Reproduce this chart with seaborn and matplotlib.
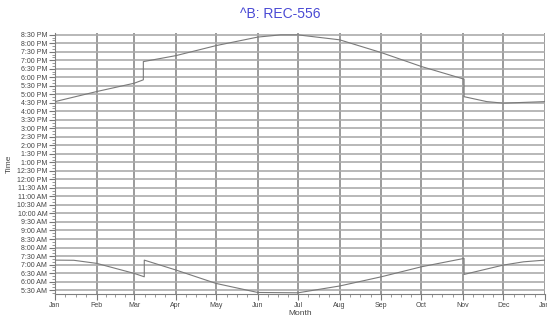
import numpy as np
import pandas as pd
import matplotlib
matplotlib.use("Agg")
import matplotlib.pyplot as plt
import seaborn as sns
from matplotlib.ticker import FixedLocator, FuncFormatter, MultipleLocator

# ---- data (day of year, hour of day) ----
sunset_day = [0, 31, 59, 65.8, 65.8, 90, 120, 151, 168, 181, 212, 243, 273, 304.7, 304.7, 321.6, 334, 365]
sunset_hr = [16.57, 17.16, 17.65, 17.85, 18.92, 19.27, 19.86, 20.36, 20.49, 20.49, 20.20, 19.45, 18.63, 17.89, 16.86, 16.57, 16.48, 16.57]

sunrise_day = [0, 14, 31, 59, 66.5, 66.5, 90, 120, 151, 181, 212, 243, 273, 304.7, 304.7, 334, 349, 365]
sunrise_hr = [7.26, 7.25, 7.07, 6.48, 6.28, 7.26, 6.68, 5.89, 5.36, 5.34, 5.74, 6.28, 6.87, 7.36, 6.42, 6.97, 7.16, 7.26]

month_starts = [0, 31, 59, 90, 120, 151, 181, 212, 243, 273, 304, 334, 365]
month_labels = ["Jan", "Feb", "Mar", "Apr", "May", "Jun", "Jul", "Aug", "Sep", "Oct", "Nov", "Dec", "Jan"]

title = "^B: REC-556"

plt.rcParams['font.family'] = ['Liberation Sans', 'DejaVu Sans']

fig = plt.figure(figsize=(5.47, 3.23), dpi=100)
ax = fig.add_axes([55/547, 29/323, 490/547, 261/323])

df_set = pd.DataFrame({"day": sunset_day, "hr": sunset_hr})
df_rise = pd.DataFrame({"day": sunrise_day, "hr": sunrise_hr})
sns.lineplot(data=df_set, x="day", y="hr", sort=False, estimator=None, ax=ax,
             color="#7a7a7a", linewidth=0.8, zorder=3)
sns.lineplot(data=df_rise, x="day", y="hr", sort=False, estimator=None, ax=ax,
             color="#7a7a7a", linewidth=0.8, zorder=3)

ax.set_xlim(0, 365)
ax.set_ylim(5.27, 20.6)

# y ticks every 30 minutes
yt = np.arange(5.5, 20.51, 0.5)
def fmt(v, pos):
    h = int(round(v * 60)) // 60
    m = int(round(v * 60)) % 60
    ampm = "AM" if h < 12 else "PM"
    h12 = h % 12
    if h12 == 0:
        h12 = 12
    return f"{h12}:{m:02d} {ampm}"
ax.yaxis.set_major_locator(FixedLocator(yt))
ax.yaxis.set_major_formatter(FuncFormatter(fmt))
ax.yaxis.set_minor_locator(MultipleLocator(1/6))

ax.xaxis.set_major_locator(FixedLocator(month_starts))
ax.set_xticklabels(month_labels)
minors = []
for a, b in zip(month_starts[:-1], month_starts[1:]):
    for k in (1, 2, 3):
        minors.append(a + (b - a) * k / 4)
ax.xaxis.set_minor_locator(FixedLocator(minors))

ax.grid(axis="y", which="major", color="#ababab", linewidth=1.2, zorder=1)
ax.grid(axis="x", which="major", color="#939393", linewidth=1.3, zorder=1)

ax.tick_params(axis="both", which="major", labelsize=5, colors="#777777",
               labelcolor="#444444", length=4, width=0.8, pad=1.5)
ax.tick_params(axis="both", which="minor", colors="#888888", length=2.5, width=0.6)

for s in ["top", "right"]:
    ax.spines[s].set_visible(False)
for s in ["left", "bottom"]:
    ax.spines[s].set_color("#808080")
    ax.spines[s].set_linewidth(0.8)

ax.set_xlabel("Month", fontsize=6, color="#444444", labelpad=1)
ax.set_ylabel("Time", fontsize=6, color="#444444", labelpad=3)

fig.text(0.512, 1 - 14/323, title, ha="center", va="center", fontsize=10, color="#4a4ad4")

fig.savefig("out.png", dpi=100)
